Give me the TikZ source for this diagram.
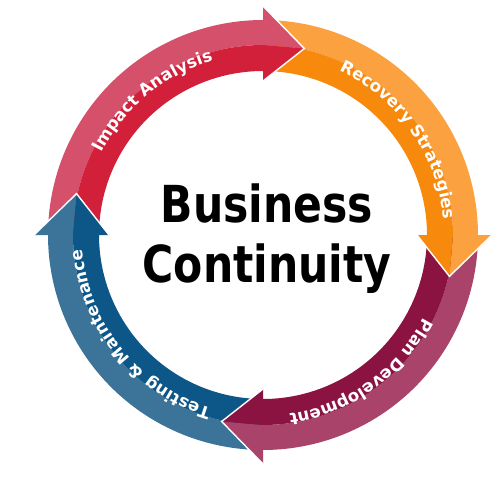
\documentclass[tikz,border=0pt]{standalone}
\usepackage{fontspec}
\setmainfont{DejaVu Sans}
\usetikzlibrary{decorations.text}
\definecolor{redL}{HTML}{D5516B}
\definecolor{redD}{HTML}{D2203A}
\definecolor{orgL}{HTML}{FBA13F}
\definecolor{orgD}{HTML}{F7890D}
\definecolor{marL}{HTML}{A9436A}
\definecolor{marD}{HTML}{8B1342}
\definecolor{bluL}{HTML}{3C7499}
\definecolor{bluD}{HTML}{0C5688}
\tikzset{
  headedge/.style={white, line width=1.4pt, line join=miter},
  centertext/.style={font=\bfseries\fontsize{51pt}{60pt}\selectfont, anchor=base, inner sep=0pt}
}
\newcommand{\ringstyle}{\bfseries\fontsize{16.7pt}{19pt}\selectfont\color{white}}
\begin{document}
\begin{tikzpicture}
\useasboundingbox (-263pt,-244pt) rectangle (237pt,235pt);
% bodies
\foreach \b/\L/\D in {90/redL/redD, 0/orgL/orgD, -90/marL/marD, 180/bluL/bluD} {
  \pgfmathsetmacro\s{\b+90}
  \pgfmathsetmacro\e{\b-0.5}
  \fill[\L] (\s:215pt) arc[start angle=\s, end angle=\e, radius=215pt] -- (\e:190pt) arc[start angle=\e, end angle=\s, radius=190pt] -- cycle;
  \fill[\D] (\s:190pt) arc[start angle=\s, end angle=\e, radius=190pt] -- (\e:164pt) arc[start angle=\e, end angle=\s, radius=164pt] -- cycle;
}
% heads
\foreach \b/\L/\D in {90/redL/redD, 0/orgL/orgD, -90/marL/marD, 180/bluL/bluD} {
  \pgfmathsetmacro\t{\b-12.5}
  \fill[\L] (\b:229pt) -- (\t:191pt) -- (\b:190pt) -- cycle;
  \fill[\D] (\b:154pt) -- (\t:191pt) -- (\b:190pt) -- cycle;
  \draw[headedge] (\b:229pt) -- (\t:191pt) -- (\b:154pt);
}
% ring labels
\path[decorate, decoration={text along path, text align=center, text={|\ringstyle|Impact Analysis}}]
  (179.5:181pt) arc[start angle=179.5, end angle=79.5, radius=181pt];
\path[decorate, decoration={text along path, text align=center, text={|\ringstyle|Recovery Strategies}}]
  (85:181pt) arc[start angle=85, end angle=-15, radius=181pt];
\path[decorate, decoration={text along path, text align=center, text={|\ringstyle|Plan Development}}]
  (-4.5:181pt) arc[start angle=-4.5, end angle=-104.5, radius=181pt];
\path[decorate, decoration={text along path, text align=center, text={|\ringstyle|Testing {\&} Maintenance}}]
  (269:181pt) arc[start angle=269, end angle=169, radius=181pt];
% center text
\node[centertext] (l1) at (4pt,13pt) {\scalebox{0.834}[1]{Business}};
\node[centertext] (l2) at (4pt,-47pt) {\scalebox{0.834}[1]{Continuity}};
\end{tikzpicture}
\end{document}
